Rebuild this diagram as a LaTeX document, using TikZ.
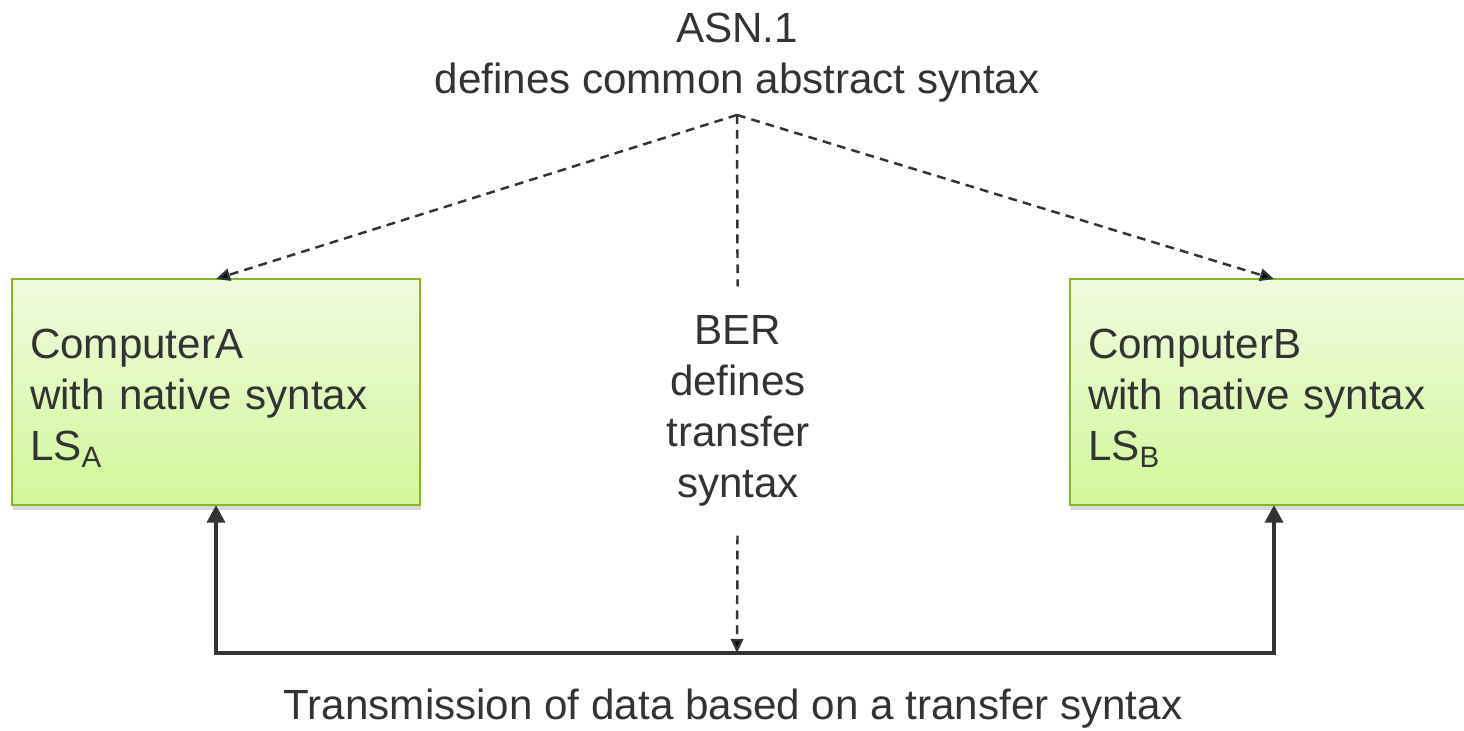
\documentclass[tikz,border=0pt]{standalone}
\usepackage{fontspec}
\setmainfont{Liberation Sans}
\usetikzlibrary{positioning, arrows.meta, shadows}
\definecolor{inkgray}{HTML}{333333}
\definecolor{boxedge}{HTML}{88B620}
\definecolor{boxtop}{HTML}{F0FADF}
\definecolor{boxbottom}{HTML}{D1F799}
\tikzset{
    computer node/.style={rectangle, draw=boxedge, line width=1.5pt, top color=boxtop, bottom color=boxbottom, minimum width=8.16cm, minimum height=4.52cm, text width=7.44cm, inner xsep=0.36cm, align=left, outer sep=0pt, font=\fontsize{24}{29}\selectfont, text=inkgray, drop shadow={shadow xshift=0.5pt, shadow yshift=-3pt, opacity=0.3}},
    note text/.style={align=center, font=\fontsize{24}{29}\selectfont, text=inkgray},
    syntax link/.style={draw=inkgray, line width=1.4pt, dash pattern=on 5pt off 3.5pt},
    syntax tip/.style={-{Triangle[length=8pt, width=7pt]}},
    data link/.style={draw=inkgray, line width=2.8pt, line join=miter, {Triangle[length=10pt, width=10pt]}-{Triangle[length=10pt, width=10pt]}},
}

\begin{document}
\begin{tikzpicture}
    \useasboundingbox (0,0) rectangle (29.28,14.62);
    \node[note text, anchor=south, inner ysep=0.24cm] (asn) at (14.74,12.32) {ASN.1\\defines common abstract syntax};
    \node[computer node] (compA) at (4.32,6.78) {\rule{0pt}{0.85cm}ComputerA\\with native syntax\\LS\textsubscript{A}};
    \node[computer node] (compB) at (25.48,6.78) {\rule{0pt}{0.85cm}ComputerB\\with native syntax\\LS\textsubscript{B}};
    \node[note text, inner ysep=0.58cm, inner xsep=0.1cm] (ber) at (14.76,6.40) {BER\\defines\\transfer\\syntax};
    \coordinate (bus) at (14.74,1.56);
    \node[note text, anchor=base] (trans) at (14.66,0.22) {Transmission of data based on a transfer syntax};
    \path[syntax link]
    (asn.south) edge[syntax tip] (compA.north)
    (asn.south) edge[syntax tip] (compB.north)
    (asn.south) edge (ber)
    (ber) edge[syntax tip] (bus);
    \draw[data link] (compA.south) |- (bus) -| (compB.south);
\end{tikzpicture}
\end{document}
